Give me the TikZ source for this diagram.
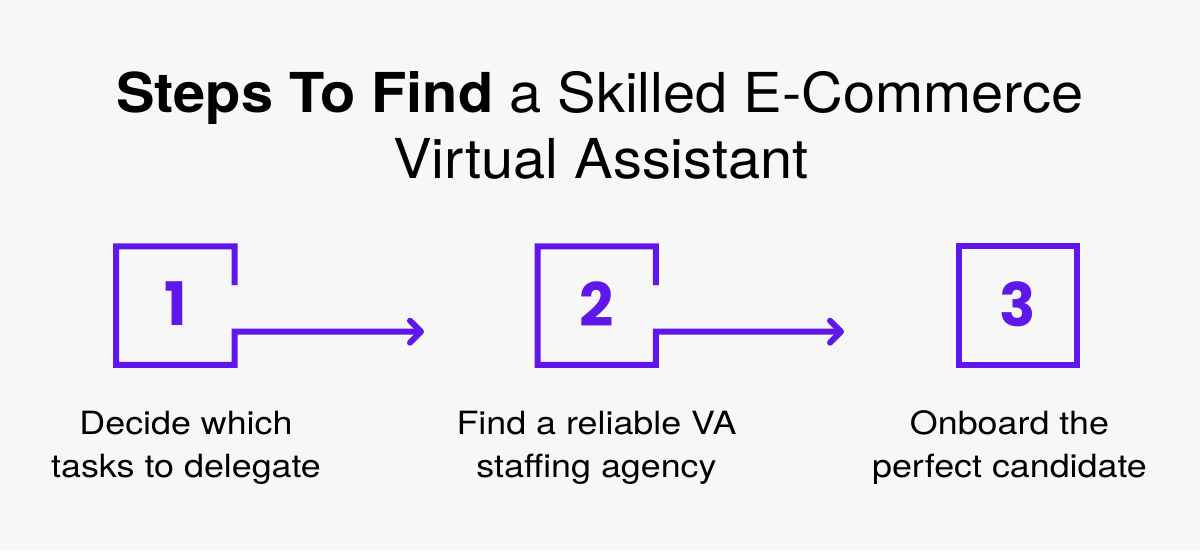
\documentclass[tikz,border=0pt]{standalone}
\usepackage{fontspec}
\setmainfont{TeX Gyre Heros}
\newfontfamily\titlefont{TeX Gyre Heros}[FakeStretch=1.05]
\newfontfamily\bodyfont{TeX Gyre Heros}[FakeStretch=1.12]
\newfontfamily\numfont{Poppins}
\usetikzlibrary{arrows.meta,calc}
\definecolor{vapurple}{HTML}{5F17EB}
\definecolor{vabg}{HTML}{F7F7F7}

\begin{document}
\begin{tikzpicture}[x=1pt,y=-1pt,
  numbox/.style={minimum size=118pt,inner sep=0pt,text=vapurple,
    font=\numfont\bfseries\fontsize{60}{60}\selectfont},
  frame/.style={draw=vapurple,line width=6pt},
  steparrow/.style={draw=vapurple,line width=6pt,
    -{Straight Barb[length=11pt,width=22pt,round]}},
  titletext/.style={anchor=base,inner sep=0pt,
    font=\titlefont\fontsize{55}{66}\selectfont},
  caption/.style={anchor=base,align=center,inner sep=0pt,
    font=\bodyfont\fontsize{32}{43}\selectfont}]
\fill[vabg] (0,0) rectangle (1200,550);
\useasboundingbox (0,0) rectangle (1200,550);

\node[titletext] (title1) at (600,112) {{\bfseries Steps To Find} a Skilled E-Commerce};
\node[titletext] (title2) at (601,178) {Virtual Assistant};

\node[numbox] (n1) at (175.4,305.6) {\raisebox{3.5pt}{1}};
\node[numbox] (n2) at (596.7,305.6) {\raisebox{3.5pt}{2}};
\node[numbox] (n3) at (1017.7,305.6) {\raisebox{3.5pt}{3}};
\coordinate (a1) at (424,331.7);
\coordinate (a2) at (844,331.7);

\draw[steparrow] ($(n1.east)+(0,-20.5)$) |- (n1.north west) |- (n1.south east)
  -- ($(n1.east)+(0,26.1)$) -- (a1);
\draw[steparrow] ($(n2.east)+(0,-20.5)$) |- (n2.north west) |- (n2.south east)
  -- ($(n2.east)+(0,26.1)$) -- (a2);
\draw[frame] (n3.north west) rectangle (n3.south east);

% base of a two-line node is its last line
\node[caption] (c1) at (186,477) {Decide which\\tasks to delegate};
\node[caption] (c2) at (596.5,477) {Find a reliable VA\\staffing agency};
\node[caption] (c3) at (1009.5,477) {Onboard the\\perfect candidate};
\end{tikzpicture}
\end{document}
